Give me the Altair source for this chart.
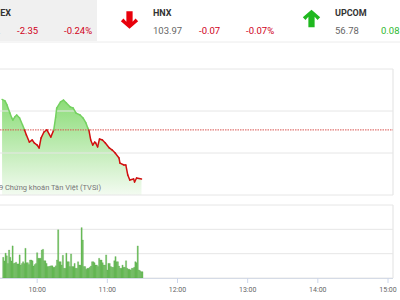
import altair as alt
import pandas as pd
import numpy as np

# ---------------- data ----------------
index_names = ["VN-INDEX", "HNX", "UPCOM"]
index_values = ["977.32", "103.97", "56.78"]
index_changes = ["-2.35", "-0.07", "0.08"]
index_pcts = ["-0.24%", "-0.07%", "0.14%"]

# minutes after 09:00
price_minutes = [30.0, 32.5, 34.2, 36.7, 38.3, 39.2, 40.8, 42.5, 45.0, 47.5, 49.2,
                 50.8, 53.3, 55.8, 57.5, 60.0, 61.7, 63.3, 65.8, 68.3, 71.7,
                 74.2, 75.8, 76.7, 80.0, 82.5, 85.0, 88.3, 90.8, 93.3, 96.7,
                 99.2, 101.7, 103.3, 104.2, 105.8, 107.5, 109.2, 110.0, 111.7, 113.3,
                 115.8, 118.3, 121.7, 124.2, 126.7, 130.0, 130.8, 134.2, 135.8, 137.5,
                 139.2, 142.5, 143.3, 145.0, 149.2]
price_values = [981.05, 980.98, 980.79, 980.40, 980.17, 980.07, 980.21, 980.31, 980.17, 979.83, 979.60,
                979.36, 979.02, 979.12, 978.98, 978.88, 978.74, 979.21, 979.50, 979.60, 979.26,
                979.60, 980.21, 980.64, 980.93, 981.02, 980.88, 980.69, 980.64, 980.40, 980.31,
                980.17, 979.93, 979.69, 979.60, 979.12, 978.88, 979.02, 978.98, 978.79, 979.17,
                979.12, 978.98, 978.74, 978.64, 978.50, 978.26, 978.02, 977.93, 977.93, 977.45,
                977.21, 977.26, 977.12, 977.31, 977.26]
ref_price = 979.60
price_grid = [976.5, 978.5, 980.5, 982.5]

vol_minutes = list(range(31, 151))
vol_values = [0.85, 0.70,
              1.02, 0.91, 0.60, 1.15, 0.85, 0.70, 1.32, 0.60, 0.62, 0.65,
              0.58, 0.58, 0.95, 0.53, 0.60, 0.67, 0.60, 1.22, 0.63, 0.63,
              0.55, 0.74, 0.74, 0.71, 0.49, 0.55, 0.60, 1.04, 0.81, 0.81,
              0.81, 1.15, 1.18, 0.71, 0.71, 0.60, 0.47, 0.47, 0.49, 0.50,
              0.50, 0.44, 0.44, 0.50, 0.74, 1.98, 0.67, 0.67, 0.53, 0.93,
              0.40, 0.40, 1.02, 0.67, 0.67, 0.47, 0.99, 0.47, 0.47, 0.60,
              0.40, 0.40, 0.67, 0.53, 0.53, 2.07, 1.56, 0.47, 0.47, 0.36,
              0.40, 0.40, 0.44, 0.49, 0.67, 0.67, 0.63, 0.53, 0.53, 0.47,
              0.81, 0.74, 0.74, 0.63, 0.53, 0.53, 0.95, 0.33, 0.60, 0.60,
              0.47, 0.44, 0.44, 0.71, 0.88, 0.67, 0.67, 0.49, 0.40, 0.40,
              0.53, 0.44, 0.44, 0.71, 0.40, 0.36, 0.36, 0.33, 0.40, 0.40,
              0.44, 0.67, 0.63, 1.32, 0.33, 0.30, 0.26, 0.26]
vol_grid = [0, 1, 2, 3]

tick_minutes = [60, 120, 180, 240, 300, 360]
tick_labels = ["10:00", "11:00", "12:00", "13:00", "14:00", "15:00"]

watermark = "© 2019 Chứng khoán Tân Việt (TVSI)"

# ---------------- scales ----------------
FONT = "Roboto"
RED = "#d0021b"
GREEN_TXT = "#2eb82e"
GRID = "#e6e6e6"

xs = alt.Scale(domain=[32.5, 360], range=[0, 393], nice=False, zero=False)
ys_price = alt.Scale(domain=[976.5, 982.5], range=[195, 69], nice=False, zero=False)
ys_vol = alt.Scale(domain=[0, 3], range=[278, 205], nice=False, zero=False)

price_df = pd.DataFrame({"t": price_minutes, "p": price_values})
seg_df = pd.DataFrame({"t": price_minutes[:-1], "p": price_values[:-1],
                       "t2": price_minutes[1:], "p2": price_values[1:]})
seg_df["side"] = np.where((seg_df["p"] + seg_df["p2"]) / 2 >= ref_price, "up", "down")
vol_df = pd.DataFrame({"t": vol_minutes, "v": vol_values})
one = pd.DataFrame({"a": [0]})

layers = []

# header background
layers.append(alt.Chart(one).mark_rect(color="#f0f0f0").encode(
    x=alt.value(0), x2=alt.value(97), y=alt.value(0), y2=alt.value(41)))
layers.append(alt.Chart(one).mark_rule(color="#ececec", strokeWidth=1).encode(
    x=alt.value(0), x2=alt.value(400), y=alt.value(42)))


def txt(label, x, y, color, size=9.5, weight="normal", align="left"):
    return alt.Chart(pd.DataFrame({"label": [label]})).mark_text(
        font=FONT, fontSize=size, fontWeight=weight, align=align,
        baseline="alphabetic", color=color).encode(
        x=alt.value(x), y=alt.value(y), text="label:N")


# header texts
name_x = [11, 153, 335]
name_align = ["right", "left", "left"]
for i in range(3):
    layers.append(txt(index_names[i], name_x[i], 15.5, "#333333", 9, "bold", name_align[i]))
val_x = [-29, 153, 335]
chg_colors = [RED, RED, GREEN_TXT]
for i in range(3):
    layers.append(txt(index_values[i], val_x[i], 34, "#666666"))
    layers.append(txt(index_changes[i], val_x[i] + 46, 34, chg_colors[i]))
    layers.append(txt(index_pcts[i], val_x[i] + 93, 34, chg_colors[i]))

down_arrow = "M-0.36,-1 L0.36,-1 L0.36,0.2 L0.7,-0.16 L1,0.14 L0,1 L-1,0.14 L-0.7,-0.16 L-0.36,0.2 Z"
up_arrow = "M-0.36,1 L0.36,1 L0.36,-0.2 L0.7,0.16 L1,-0.14 L0,-1 L-1,-0.14 L-0.7,0.16 L-0.36,-0.2 Z"
layers.append(alt.Chart(one).mark_point(shape=down_arrow, filled=True, size=300,
                                        color="#e8000b", opacity=1).encode(
    x=alt.value(129.5), y=alt.value(20)))
layers.append(alt.Chart(one).mark_point(shape=up_arrow, filled=True, size=300,
                                        color="#1fb81f", opacity=1).encode(
    x=alt.value(311.5), y=alt.value(18.5)))

# price area
grad = alt.Gradient(gradient="linear",
                    stops=[alt.GradientStop(color="#8bdc77", offset=0),
                           alt.GradientStop(color="#f3fbf1", offset=1)],
                    x1=1, x2=1, y1=0, y2=1)
layers.append(alt.Chart(price_df).mark_area(color=grad, interpolate="linear").encode(
    x=alt.X("t:Q", scale=xs, axis=None),
    y=alt.Y("p:Q", scale=ys_price, axis=None),
    y2=alt.datum(976.5)))

# price grid
layers.append(alt.Chart(pd.DataFrame({"g": price_grid})).mark_rule(color=GRID, strokeWidth=1).encode(
    y=alt.Y("g:Q", scale=ys_price, axis=None), x=alt.value(0), x2=alt.value(393)))
layers.append(alt.Chart(one).mark_rule(color=GRID, strokeWidth=1.2).encode(
    x=alt.value(393), y=alt.value(69), y2=alt.value(195)))

# reference line
layers.append(alt.Chart(pd.DataFrame({"r": [ref_price]})).mark_rule(
    color="#d9534f", strokeWidth=1, strokeDash=[1.5, 1]).encode(
    y=alt.Y("r:Q", scale=ys_price, axis=None), x=alt.value(0), x2=alt.value(393)))

# price line segments
layers.append(alt.Chart(seg_df).mark_rule(strokeWidth=1.5, strokeCap="round").encode(
    x=alt.X("t:Q", scale=xs, axis=None), x2="t2:Q",
    y=alt.Y("p:Q", scale=ys_price, axis=None), y2="p2:Q",
    color=alt.Color("side:N", scale=alt.Scale(domain=["up", "down"], range=["#74d160", "#d01010"]),
                    legend=None)))

# watermark
layers.append(alt.Chart(pd.DataFrame({"label": [watermark]})).mark_text(
    font=FONT, fontSize=7.5, align="right", baseline="alphabetic", color="#777777").encode(
    x=alt.value(101), y=alt.value(190), text="label:N"))

# volume grid
layers.append(alt.Chart(pd.DataFrame({"g": vol_grid})).mark_rule(color=GRID, strokeWidth=1).encode(
    y=alt.Y("g:Q", scale=ys_vol, axis=None), x=alt.value(0), x2=alt.value(393)))
layers.append(alt.Chart(one).mark_rule(color=GRID, strokeWidth=1.2).encode(
    x=alt.value(393), y=alt.value(205), y2=alt.value(278)))

# volume bars
layers.append(alt.Chart(vol_df).mark_bar(width=1.25, color="#6cc05b",
                                         stroke="#4f9f42", strokeWidth=0.25).encode(
    x=alt.X("t:Q", scale=xs, axis=None),
    y=alt.Y("v:Q", scale=ys_vol, axis=None)))

# baseline
layers.append(alt.Chart(one).mark_rule(color="#d5dbe6", strokeWidth=1).encode(
    x=alt.value(0), x2=alt.value(393), y=alt.value(278.5)))

# time ticks and labels
tick_df = pd.DataFrame({"t": tick_minutes, "label": tick_labels})
layers.append(alt.Chart(tick_df).mark_rule(color="#ccd6eb", strokeWidth=1).encode(
    x=alt.X("t:Q", scale=xs, axis=None), y=alt.value(278), y2=alt.value(283)))
layers.append(alt.Chart(tick_df).mark_text(font=FONT, fontSize=7, color="#666666",
                                           baseline="alphabetic").encode(
    x=alt.X("t:Q", scale=xs, axis=None), y=alt.value(292), text="label:N"))

chart = alt.layer(*layers).resolve_scale(y="independent", color="independent").properties(
    width=400, height=300, autosize=alt.AutoSizeParams(type="none"), padding=0,
    background="white").configure_view(strokeWidth=0)

chart.save("out.html", embed_options={"renderer": "svg", "actions": False})
